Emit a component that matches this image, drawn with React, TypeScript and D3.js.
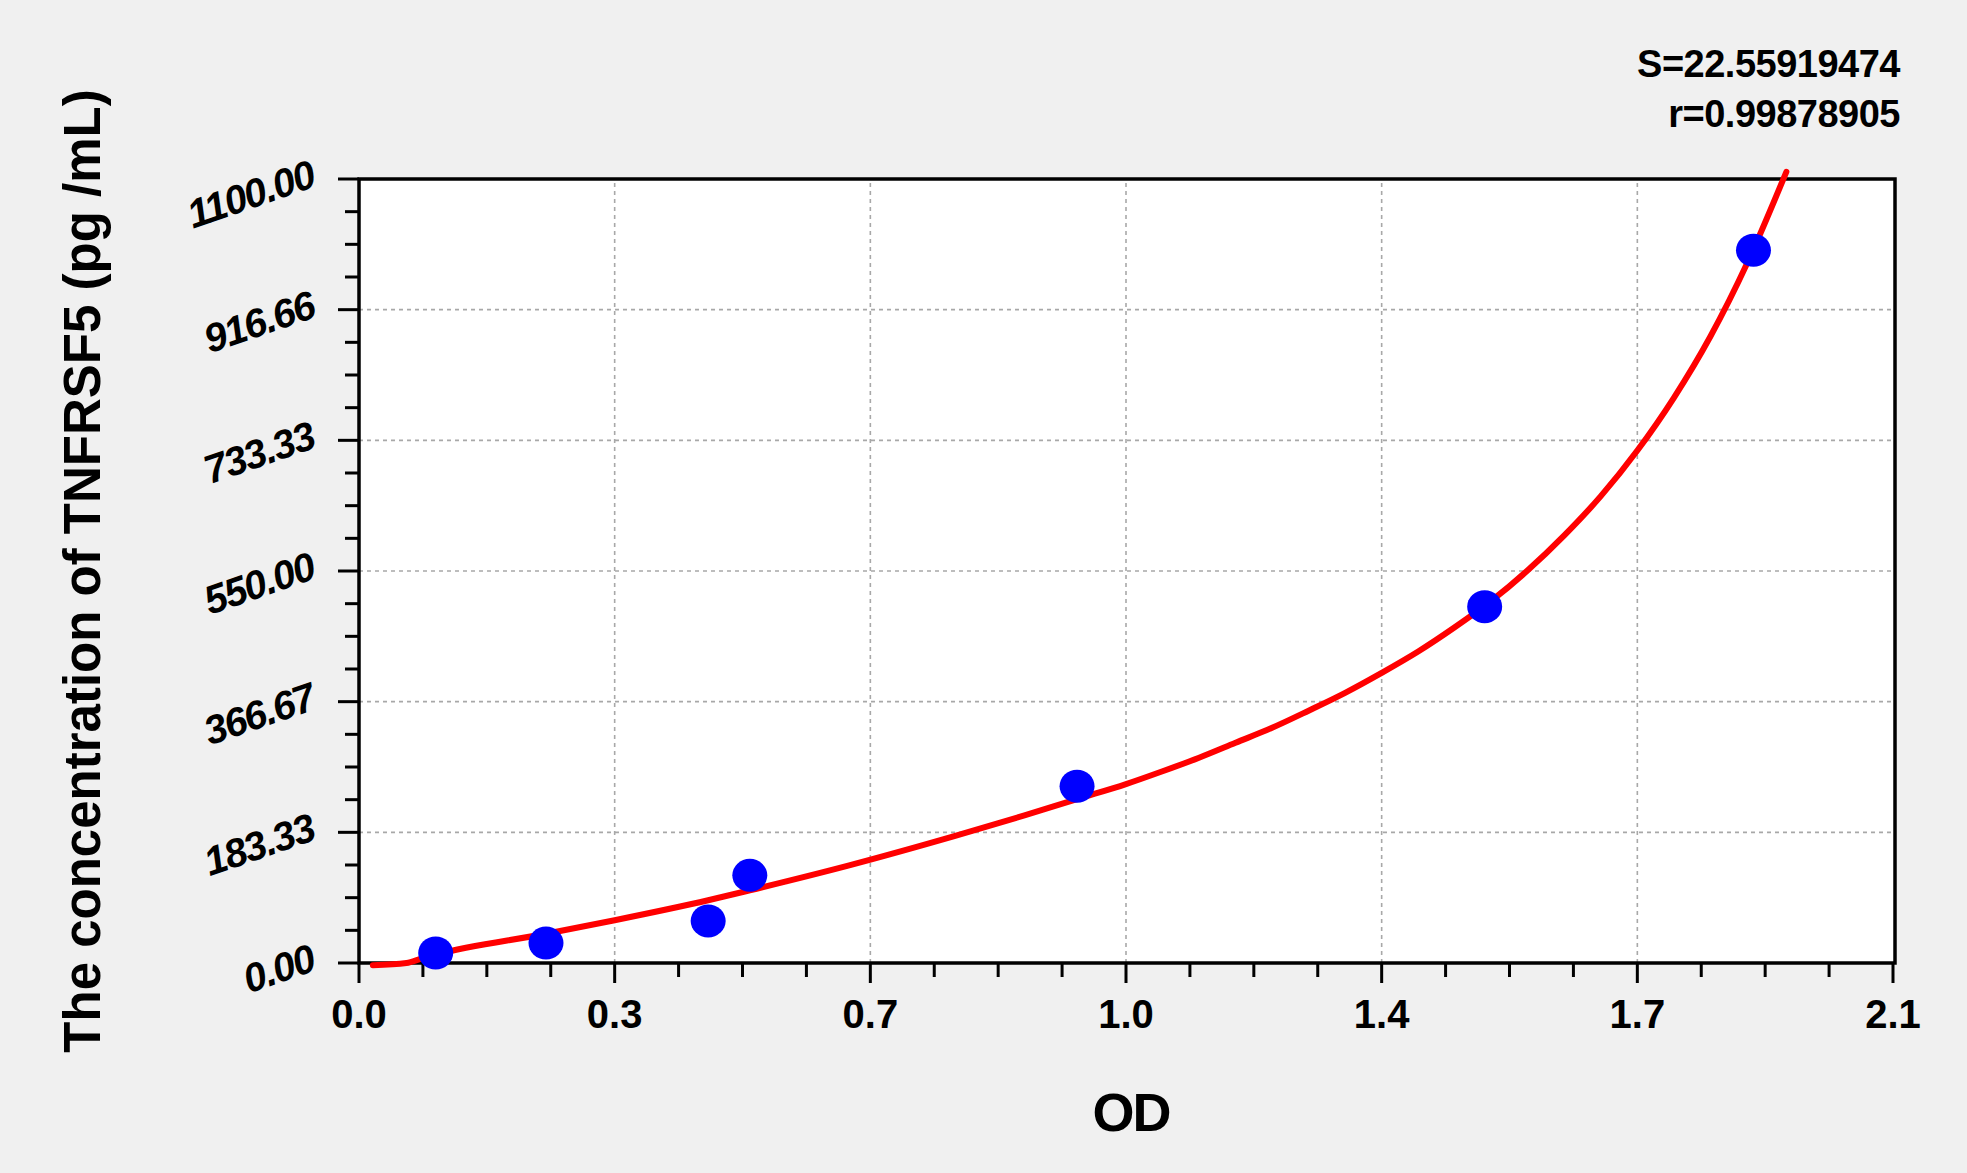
import React from 'react';
import * as d3 from 'd3';

// standards (OD vs concentration)
const pointOD = [0.105, 0.256, 0.478, 0.535, 0.983, 1.541, 1.909];
const pointConc = [14, 28, 59, 123, 248, 500, 1000];

// fitted curve
const curveOD = [0.019, 0.065, 0.085, 0.106, 0.256, 0.35, 0.478, 0.535, 0.671, 0.815, 0.911, 0.983, 1.05, 1.1, 1.15, 1.2, 1.25, 1.3, 1.35, 1.4, 1.45, 1.5, 1.55, 1.6, 1.65, 1.7, 1.75, 1.8, 1.85, 1.9, 1.954];
const curveConc = [-3, 0, 6, 12, 41, 60, 88, 102, 137, 178, 207, 230, 251, 269, 288, 309, 330, 354, 379, 407, 437, 471, 508, 551, 600, 655, 719, 793, 879, 981, 1110];

const xTickValues = [0, 0.35, 0.7, 1.05, 1.4, 1.75, 2.1];
const xTickLabels = ['0.0', '0.3', '0.7', '1.0', '1.4', '1.7', '2.1'];
const yTickValues = [0, 183.33, 366.67, 550, 733.33, 916.66, 1100];
const yTickLabels = ['0.00', '183.33', '366.67', '550.00', '733.33', '916.66', '1100.00'];

const statLines = ['S=22.55919474', 'r=0.99878905'];

const W = 1967;
const H = 1173;
const FONT = '"Liberation Sans", Arial, sans-serif';

export default function App() {
  const x = d3.scaleLinear().domain([0, 2.1]).range([359, 1893]);
  const y = d3.scaleLinear().domain([0, 1100]).range([963, 179]);

  const [x0, x1] = x.range();
  const [y0, y1] = y.range();

  const xMinor = d3.range(0, 2.1 + 1e-9, 0.35 / 4);
  const yMinor = d3.range(0, 1100 + 1e-6, 1100 / 24);

  const line = d3
    .line<number>()
    .x((_, i) => x(curveOD[i]))
    .y((d) => y(d))
    .curve(d3.curveMonotoneX);

  return (
    <div style={{ width: W, height: H, overflow: 'hidden' }}>
      <style>{'body{margin:0}'}</style>
      <svg width={W} height={H} style={{ display: 'block', background: '#f0f0f0' }} fontFamily={FONT}>
        <rect x={x0} y={y1} width={x1 - x0 + 2} height={y0 - y1} fill="#fff" />

        {/* grid */}
        {xTickValues.slice(1, -1).map((v) => (
          <line key={'gx' + v} x1={x(v)} x2={x(v)} y1={y0} y2={y1} stroke="#a8a8a8" strokeWidth={1.6} strokeDasharray="4 4" />
        ))}
        {yTickValues.slice(1, -1).map((v) => (
          <line key={'gy' + v} x1={x0} x2={x1 + 2} y1={y(v)} y2={y(v)} stroke="#a8a8a8" strokeWidth={1.6} strokeDasharray="4 4" />
        ))}

        {/* frame */}
        <rect x={x0} y={y1} width={x1 - x0 + 2} height={y0 - y1} fill="none" stroke="#000" strokeWidth={3.5} />

        {/* y ticks */}
        {yMinor.map((v, i) => (
          <line key={'yt' + i} x1={x0} x2={x0 - (i % 4 === 0 ? 21 : 14)} y1={y(v)} y2={y(v)} stroke="#000" strokeWidth={3} />
        ))}
        {/* x ticks */}
        {xMinor.map((v, i) => (
          <line key={'xt' + i} x1={x(v)} x2={x(v)} y1={y0} y2={y0 + (i % 4 === 0 ? 20 : 14)} stroke="#000" strokeWidth={3} />
        ))}

        {yTickValues.map((v, i) => {
          const tx = 317;
          const ty = y(v) + 7;
          return (
            <text key={'yl' + v} x={tx} y={ty} transform={`rotate(-19 ${tx} ${ty})`} textAnchor="end" fontSize={40} fontWeight="bold" fontStyle="italic" letterSpacing={-1.5}>
              {yTickLabels[i]}
            </text>
          );
        })}
        {xTickValues.map((v, i) => (
          <text key={'xl' + v} x={x(v)} y={1028} textAnchor="middle" fontSize={40} fontWeight="bold">
            {xTickLabels[i]}
          </text>
        ))}

        {/* curve */}
        <path d={line(curveConc) || ''} fill="none" stroke="#f00" strokeWidth={6} strokeLinecap="round" strokeLinejoin="round" />

        {/* standards */}
        {pointOD.map((od, i) => (
          <ellipse key={'p' + i} cx={x(od)} cy={y(pointConc[i])} rx={17.5} ry={16.5} fill="#0000ff" />
        ))}

        {/* titles */}
        <text x={1131} y={1131} textAnchor="middle" fontSize={54} fontWeight="bold" letterSpacing={-2}>OD</text>
        <text x={100} y={571} transform="rotate(-90 100 571)" textAnchor="middle" fontSize={51} fontWeight="bold">
          The concentration of TNFRSF5 (pg /mL)
        </text>

        {statLines.map((s, i) => (
          <text key={s} x={1900} y={77 + i * 50} textAnchor="end" fontSize={38} fontWeight="bold" letterSpacing={-0.5}>
            {s}
          </text>
        ))}
      </svg>
    </div>
  );
}
